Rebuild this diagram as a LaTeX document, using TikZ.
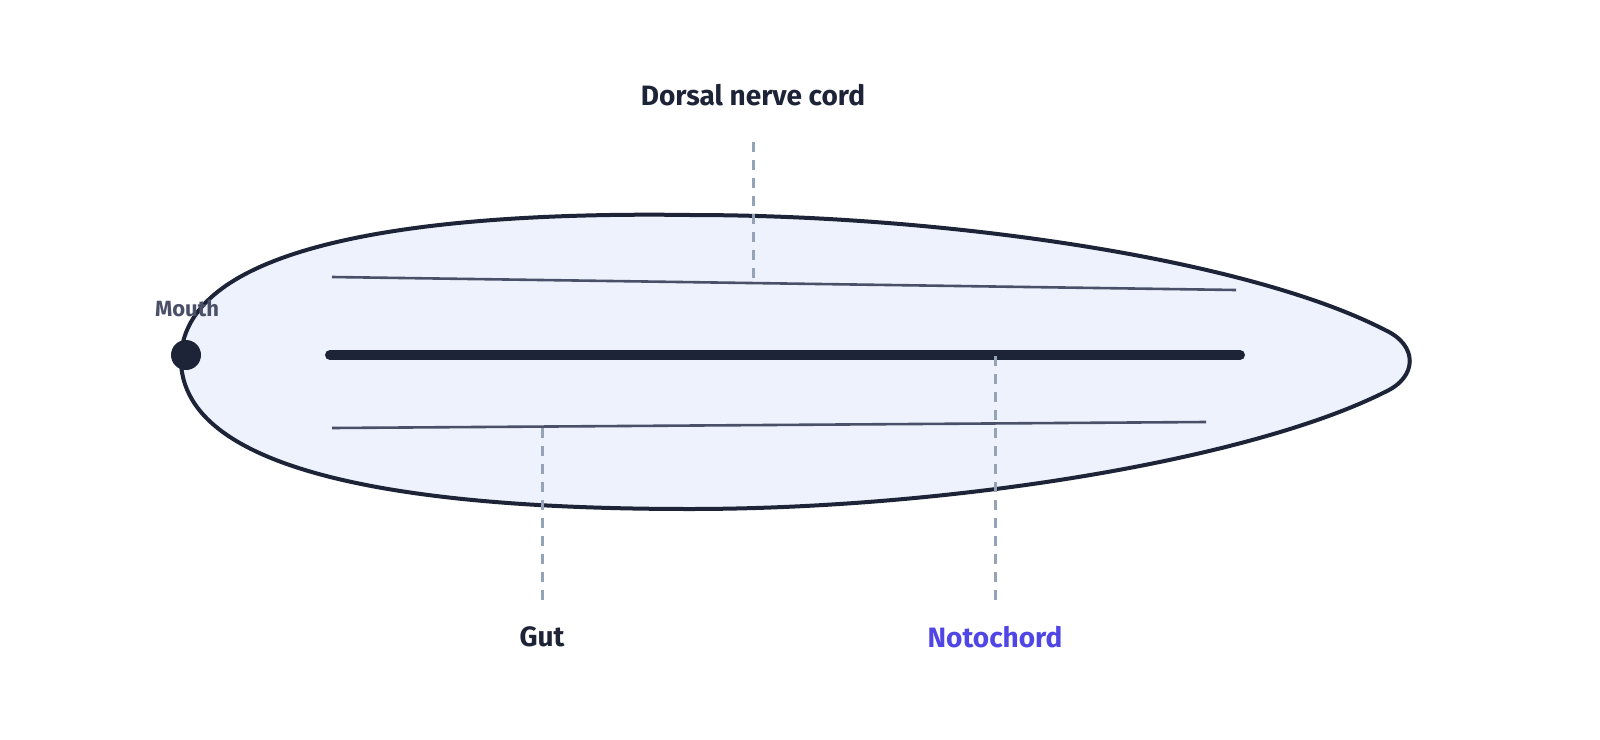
\documentclass[tikz,border=0pt]{standalone}
\usepackage{fontspec}
\setmainfont{Fira Sans}
\usetikzlibrary{backgrounds}
\definecolor{ink}{HTML}{1E2438}
\definecolor{slate}{HTML}{4A5068}
\definecolor{guide}{HTML}{94A3B8}
\definecolor{bodyfill}{HTML}{EDF2FC}
\definecolor{accent}{HTML}{4F46E5}
\begin{document}
\begin{tikzpicture}[x=0.5pt,y=-0.5pt]
  \tikzset{label/.style={font=\bfseries\fontsize{14}{16}\selectfont, text=ink}}
  \tikzset{leader/.style={guide, line width=1.5pt, dash pattern=on 5pt off 4pt}}
  \tikzset{organ/.style={slate, line width=1.3pt}}

  \useasboundingbox (0,0) rectangle (1600,739);

  % body outline
  \draw[ink, line width=2pt, fill=bodyfill]
    (181,355) .. controls (190,230) and (480,212) .. (690,215)
    .. controls (950,215) and (1250,260) .. (1385,330)
    .. controls (1418,345) and (1418,377) .. (1385,392)
    .. controls (1250,460) and (950,509) .. (690,509)
    .. controls (480,509) and (175,490) .. (181,355) -- cycle;

  \coordinate (nerveA) at (332,277);
  \coordinate (nerveB) at (1236,290);
  \coordinate (notoA) at (330,355);
  \coordinate (notoB) at (1240,355);
  \coordinate (gutA) at (332,428);
  \coordinate (gutB) at (1206,422);

  \draw[organ] (nerveA) -- (nerveB);
  \draw[organ] (gutA) -- (gutB);
  \draw[ink, line width=5pt, line cap=round] (notoA) -- (notoB);

  \node[circle, fill=ink, minimum size=15pt, inner sep=0pt] (mouth) at (186,355) {};

  % labels
  \node[label] (dorsal) at (753,95) {Dorsal nerve cord};
  \node[label, text=slate, font=\bfseries\fontsize{11}{13}\selectfont] (mouthlbl) at (187,308) {Mouth};
  \node[label] (gut) at (542,637) {Gut};
  \node[label, text=accent] (noto) at (995,637) {Notochord};

  % leaders
  \coordinate (dorsalTop) at (753,142);
  \coordinate (dorsalEnd) at (753,278);
  \coordinate (gutTop) at (542,428);
  \coordinate (gutEnd) at (542,600);
  \coordinate (notoTop) at (995,356);
  \coordinate (notoEnd) at (995,600);
  \draw[leader] (dorsalTop) -- (dorsalEnd);
  \draw[leader] (gutTop) -- (gutEnd);
  \draw[leader] (notoTop) -- (notoEnd);
\end{tikzpicture}
\end{document}
